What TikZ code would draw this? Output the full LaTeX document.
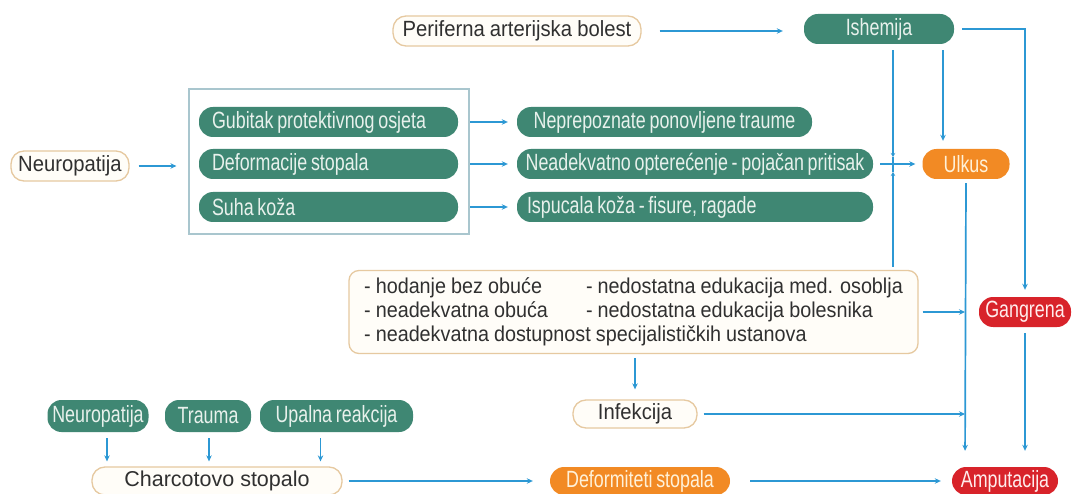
\documentclass[tikz,border=0pt]{standalone}
\usepackage{fontspec}
\setmainfont{Liberation Sans}
\newfontfamily\pillfont[FakeStretch=0.76,WordSpace=0.76]{Liberation Sans}
\newfontfamily\darkfont[FakeStretch=0.92,WordSpace=0.92]{Liberation Sans}
\usetikzlibrary{arrows.meta}
\definecolor{grn}{HTML}{3F8773}
\definecolor{grntxt}{HTML}{E8F1EC}
\definecolor{org}{HTML}{F28A24}
\definecolor{orgtxt}{HTML}{FFF1D8}
\definecolor{rd}{HTML}{D8232A}
\definecolor{rdtxt}{HTML}{FFECEC}
\definecolor{beige}{HTML}{E6C9A0}
\definecolor{beigefill}{HTML}{FFFDF8}
\definecolor{blu}{HTML}{2C98D4}
\definecolor{grpline}{HTML}{A9C6CE}
\definecolor{darktxt}{HTML}{303030}
\tikzset{
  pill/.style={rectangle, rounded corners=14pt, minimum height=30pt, inner ysep=0pt, inner xsep=0pt,
    font=\pillfont\fontsize{23.5}{25}\selectfont},
  greenpill/.style={pill, fill=grn, text=grntxt},
  orangepill/.style={pill, fill=org, text=orgtxt},
  redpill/.style={pill, fill=rd, text=rdtxt},
  beigepill/.style={pill, rounded corners=13pt, draw=beige, line width=1.3pt, fill=beigefill, text=darktxt,
    font=\darkfont\fontsize{22}{24}\selectfont},
  link/.style={draw=blu, line width=1.7pt},
  arr/.style={link, -{Stealth[length=6pt,width=5.5pt]}},
}
\begin{document}
\begin{tikzpicture}[x=1pt,y=-1pt]
\fill[white] (0,0) rectangle (1073,494);
\useasboundingbox (0,0) rectangle (1073,494);

% top row
\node[beigepill, minimum width=248pt] (per) at (517,31) {Periferna arterijska bolest};
\node[greenpill, minimum width=150pt] (isch) at (879,29) {Ishemija};

% neuropathy group
\node[beigepill, minimum width=118pt] (neuro) at (70,166) {Neuropatija};
\node[draw=grpline, line width=1.2pt, minimum width=280pt, minimum height=145pt, inner sep=0pt] (grp) at (329,161.5) {};
\node[greenpill, minimum width=259pt] (g1) at (328.5,122) {\makebox[233pt][l]{Gubitak protektivnog osjeta}};
\node[greenpill, minimum width=259pt] (g2) at (328.5,164) {\makebox[233pt][l]{Deformacije stopala}};
\node[greenpill, minimum width=259pt] (g3) at (328.5,207) {\makebox[233pt][l]{Suha koža}};
\node[greenpill, minimum width=295pt] (r1) at (664.5,122) {Neprepoznate ponovljene traume};
\node[greenpill, minimum width=356pt] (r2) at (695,164) {Neadekvatno opterećenje - pojačan pritisak};
\node[greenpill, minimum width=356pt] (r3) at (695,207) {\makebox[336pt][l]{Ispucala koža - fisure, ragade}};

% outcomes
\node[orangepill, minimum width=87pt] (ulkus) at (966,164) {Ulkus};
\node[redpill, minimum width=92pt] (gang) at (1025,312) {Gangrena};
\node[redpill, minimum width=106pt, minimum height=28pt] (amp) at (1005,481) {Amputacija};

% factors
\node[draw=beige, line width=1.3pt, fill=beigefill, rounded corners=10pt, minimum height=83pt,
  minimum width=569pt, inner xsep=0pt, inner ysep=0pt, align=left, text=darktxt,
  font=\darkfont\fontsize{21.5}{24}\selectfont] (fac) at (633.5,312)
  {\makebox[222pt][l]{- hodanje bez obuće}- nedostatna edukacija med. osoblja\\
   \makebox[222pt][l]{- neadekvatna obuća}- nedostatna edukacija bolesnika\\
   - neadekvatna dostupnost specijalističkih ustanova};
\node[beigepill, minimum width=124pt, minimum height=28pt] (inf) at (635,414) {Infekcija};

% Charcot
\node[greenpill, minimum width=101pt, minimum height=32pt] (cn) at (98,416) {Neuropatija};
\node[greenpill, minimum width=86pt, minimum height=32pt] (ct) at (208,416) {Trauma};
\node[greenpill, minimum width=153pt, minimum height=32pt] (cu) at (336.5,416) {Upalna reakcija};
\node[beigepill, minimum width=250pt, minimum height=28pt, font=\fontsize{21.5}{24}\selectfont] (charcot) at (217,481) {Charcotovo stopalo};
\node[orangepill, minimum width=180pt, minimum height=28pt] (defo) at (640,481) {Deformiteti stopala};

% connectors
\draw[arr, shorten <=18pt, shorten >=21pt] (per.east) -- (isch.west |- per.east);
\draw[arr, shorten <=9pt, shorten >=12pt] (neuro.east) -- (grp.west |- neuro.east);
\draw[arr, shorten <=12pt, shorten >=9pt] (g1.east) -- (r1.west);
\draw[arr, shorten <=12pt, shorten >=9pt] (g2.east) -- (r2.west);
\draw[arr, shorten <=12pt, shorten >=9pt] (g3.east) -- (r3.west);
\draw[arr, shorten <=7pt, shorten >=7pt] (r2.east) -- (ulkus.west);

% junction line at x=893
\coordinate (j1) at (893,157);
\coordinate (j2) at (893,172);
\draw[arr, -{Stealth[length=4pt,width=4.5pt]}, shorten <=6pt] (j1 |- isch.south) -- (j1);
\draw[arr, -{Stealth[length=4pt,width=4.5pt]}, shorten <=3pt] (j2 |- fac.north) -- (j2);
\draw[link] (j1) -- (j2);

\draw[arr, shorten <=6pt, shorten >=8pt] ([xshift=-23pt]ulkus.north |- isch.south) -- ([xshift=-23pt]ulkus.north);
\draw[arr, shorten >=7pt] ([xshift=8pt]isch.east) -| (gang.north);
\draw[arr, shorten <=4pt, shorten >=16pt] (ulkus.south) -- ([xshift=-40pt]amp.north);
\draw[arr, shorten <=6pt, shorten >=16pt] (gang.south) -- (gang.south |- amp.north);
\draw[arr, shorten <=4pt, shorten >=1pt] (fac.east) -- (fac.east -| ulkus.south);
\draw[arr, shorten <=6pt, shorten >=1pt] (inf.east) -- (inf.east -| ulkus.south);
\draw[arr, shorten <=4pt, shorten >=10pt] (fac.south -| inf.north) -- (inf.north);

\draw[arr, shorten <=6pt, shorten >=5pt] ([xshift=9pt]cn.south) -- ([xshift=9pt]cn.south |- charcot.north);
\draw[arr, shorten <=6pt, shorten >=5pt] ([xshift=1pt]ct.south) -- ([xshift=1pt]ct.south |- charcot.north);
\draw[arr, shorten <=6pt, shorten >=5pt] ([xshift=-16pt]cu.south) -- ([xshift=-16pt]cu.south |- charcot.north);
\draw[arr, shorten <=6pt, shorten >=17pt] (charcot.east) -- (defo.west);
\draw[arr, shorten <=20pt, shorten >=11pt] (defo.east) -- (amp.west);
\end{tikzpicture}
\end{document}
